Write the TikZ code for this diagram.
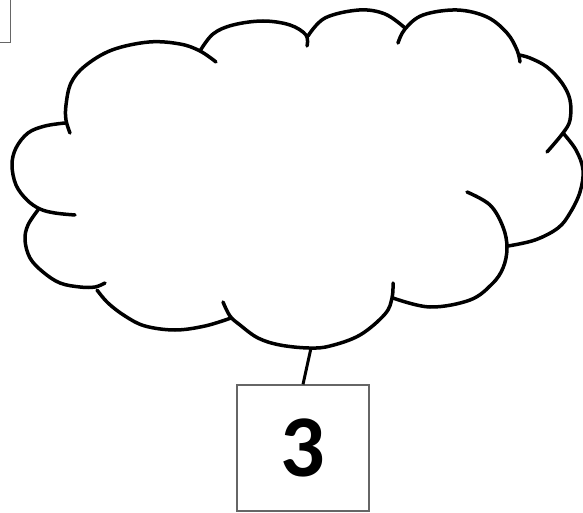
\documentclass[tikz,border=0pt]{standalone}
\usepackage{fontspec}
\newfontfamily\digitfont{Carlito}
\begin{document}
\begin{tikzpicture}[x=1pt,y=-1pt,
  cloudline/.style={line width=3.5pt,line cap=round,line join=round},
  boxline/.style={draw=black!60,line width=1.3pt},
  connector/.style={line width=3pt}]
\useasboundingbox (0,0) rectangle (583,513);
\clip (0,0) rectangle (583,513);
% partial box at top-left
\node[boxline,draw,rectangle,minimum width=60pt,minimum height=70pt,inner sep=0pt,anchor=south east] (corner) at (11,43) {};
% cloud lobes
\draw[cloudline] plot[smooth,tension=0.6] coordinates {(70,133) (66,120) (66,105) (71,83) (85,66) (112,50) (149,42) (180,44) (200,51) (216,62)};
\draw[cloudline] plot[smooth,tension=0.6] coordinates {(200,51) (213,34) (233,25) (263,21) (290,25) (306,35) (307,46)};
\draw[cloudline] plot[smooth,tension=0.6] coordinates {(308,36) (325,18) (359,10) (385,14) (405,28)};
\draw[cloudline] plot[smooth,tension=0.6] coordinates {(398,43) (405,29) (423,15) (457,10) (487,17) (507,33) (517,50) (520,62)};
\draw[cloudline] plot[smooth,tension=0.6] coordinates {(519,55) (530,58) (547,67) (562,83) (570,100) (570,120) (563,133) (547,152)};
\draw[cloudline] plot[smooth,tension=0.6] coordinates {(563,133) (576,150) (583,170) (580,192) (570,213) (558,228) (535,240) (508,246)};
\draw[cloudline] plot[smooth,tension=0.6] coordinates {(467,192) (490,205) (503,227) (507,248) (503,268) (492,284) (470,300) (430,307) (393,298)};
\draw[cloudline] plot[smooth,tension=0.6] coordinates {(393,283) (392,298) (385,314) (360,335) (330,346) (309,348) (280,345) (258,338) (240,325) (230,316) (223,302)};
\draw[cloudline] plot[smooth,tension=0.6] coordinates {(231,318) (205,326) (175,330) (145,326) (125,316) (108,303) (97,290)};
\draw[cloudline] plot[smooth,tension=0.6] coordinates {(38,210) (28,225) (25,240) (30,258) (43,272) (60,283) (80,287) (95,287) (105,283)};
\draw[cloudline] plot[smooth,tension=0.6] coordinates {(65,123) (45,126) (28,133) (16,148) (12,165) (16,185) (27,200) (40,209) (55,213) (75,215)};
\coordinate (cloudbottom) at (311,348);
% numbered box
\node[boxline,draw,rectangle,minimum width=132pt,minimum height=126pt,inner sep=0pt,font=\digitfont\bfseries\fontsize{88}{88}\selectfont] (three) at (303,448) {3};
\draw[connector] (three.north) -- (cloudbottom);
\end{tikzpicture}
\end{document}
